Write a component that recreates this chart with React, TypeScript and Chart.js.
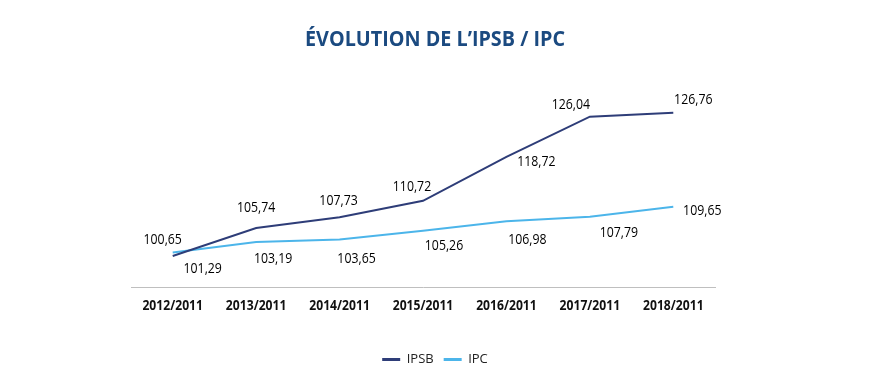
import React, { useEffect, useRef } from "react";
import { Chart, registerables } from "chart.js";

Chart.register(...registerables);

const categories = ["2012/2011", "2013/2011", "2014/2011", "2015/2011", "2016/2011", "2017/2011", "2018/2011"];
const ipsbValues = [100.65, 105.74, 107.73, 110.72, 118.72, 126.04, 126.76];
const ipcValues = [101.29, 103.19, 103.65, 105.26, 106.98, 107.79, 109.65];
const seriesNames = ["IPSB", "IPC"];
const titleText = "ÉVOLUTION DE L’IPSB / IPC";

const FONT = '"Open Sans", "Liberation Sans", sans-serif';
const COLORS = ["#2e3d78", "#4cb5ea"];
const TEXT_COLOR = "#111111";
const TITLE_COLOR = "#1b4a80";

// label placement offsets (px) relative to each point, per dataset
const labelOffsets: number[][][] = [
  [[-10, -17], [0, -21], [-1, -17], [-11, -15], [30, 4], [-19, -13], [20, -14]],
  [[30, 16], [17, 16], [17, 18], [21, 14], [21, 18], [29, 15], [29, 3]],
];

const fmt = (v: number) => v.toFixed(2).replace(".", ",");

function drawCondensed(ctx: CanvasRenderingContext2D, text: string, x: number, y: number, font: string, color: string, sx: number) {
  ctx.save();
  ctx.font = font;
  ctx.fillStyle = color;
  ctx.textAlign = "center";
  ctx.textBaseline = "alphabetic";
  ctx.translate(x, y);
  ctx.scale(sx, 1);
  ctx.fillText(text, 0, 0);
  ctx.restore();
}

const textPlugin = {
  id: "condensedText",
  afterDatasetsDraw(chart: any) {
    const ctx: CanvasRenderingContext2D = chart.ctx;
    const area = chart.chartArea;
    // title
    const titleFont = `bold 22px ${FONT}`;
    ctx.save();
    ctx.font = titleFont;
    const tw = ctx.measureText(titleText).width;
    ctx.restore();
    drawCondensed(ctx, titleText, (chart.width - 7) / 2, 38, titleFont, TITLE_COLOR, 260 / tw);

    // x tick labels
    const xScale = chart.scales.x;
    const tickFont = `bold 15px ${FONT}`;
    categories.forEach((c, i) => {
      drawCondensed(ctx, c, xScale.getPixelForTick(i), area.bottom + 23, tickFont, TEXT_COLOR, 0.81);
    });

    // value labels
    const valFont = `500 14px ${FONT}`;
    chart.data.datasets.forEach((ds: any, di: number) => {
      const meta = chart.getDatasetMeta(di);
      meta.data.forEach((pt: any, i: number) => {
        const off = labelOffsets[di][i];
        drawCondensed(ctx, fmt(ds.data[i]), pt.x + off[0], pt.y + off[1] + 5, valFont, "#000000", 0.88);
      });
    });
  },
};

export default function App() {
  const ref = useRef<HTMLCanvasElement | null>(null);
  useEffect(() => {
    if (!ref.current) return;
    const chart = new Chart(ref.current, {
      type: "line",
      data: {
        labels: categories,
        datasets: [
          {
            label: seriesNames[0],
            data: ipsbValues,
            borderColor: COLORS[0],
            backgroundColor: COLORS[0],
            borderWidth: 2,
            pointRadius: 0,
            tension: 0,
          },
          {
            label: seriesNames[1],
            data: ipcValues,
            borderColor: COLORS[1],
            backgroundColor: COLORS[1],
            borderWidth: 2,
            pointRadius: 0,
            tension: 0,
          },
        ],
      },
      options: {
        animation: false,
        responsive: true,
        maintainAspectRatio: false,
        layout: { padding: { left: 0, right: 7, top: 87, bottom: 3 } },
        scales: {
          x: {
            offset: true,
            grid: { display: false, drawTicks: false },
            border: { display: true, color: "#bfbfbf", width: 1 },
            ticks: { display: false, autoSkip: false },
            afterFit: (s: any) => {
              s.height = 56;
            },
          },
          y: {
            min: 95,
            max: 130,
            ticks: { display: false },
            grid: { display: false, drawTicks: false },
            border: { display: false },
            afterFit: (s: any) => {
              s.width = 123;
            },
          },
          y2: {
            position: "right",
            ticks: { display: false },
            grid: { display: false, drawTicks: false },
            border: { display: false },
            afterFit: (s: any) => {
              s.width = 147;
            },
          },
        },
        plugins: {
          title: { display: false },
          legend: {
            position: "bottom",
            labels: {
              boxWidth: 18,
              boxHeight: 3,
              padding: 10,
              color: "#222222",
              font: { family: FONT, size: 13 },
              generateLabels: (c: any) =>
                c.data.datasets.map((ds: any, i: number) => ({
                  text: ds.label,
                  fillStyle: COLORS[i],
                  strokeStyle: COLORS[i],
                  lineWidth: 0,
                  hidden: false,
                  datasetIndex: i,
                  fontColor: "#222222",
                })),
            },
          },
          tooltip: { enabled: false },
        },
      },
      plugins: [textPlugin],
    });
    return () => chart.destroy();
  }, []);
  return (
    <div style={{ width: "100%", height: 371, position: "relative" }}>
      <canvas ref={ref} />
    </div>
  );
}
